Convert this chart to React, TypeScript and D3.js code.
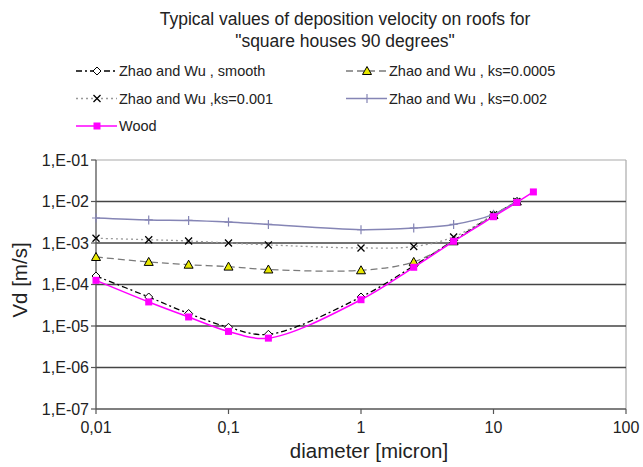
import React from 'react';
import * as d3 from 'd3';

// particle diameters [micron]
const diam = [0.01, 0.025, 0.05, 0.1, 0.2, 1, 2.5, 5, 10, 15];
const woodDiam = [0.01, 0.025, 0.05, 0.1, 0.2, 1, 2.5, 5, 10, 15, 20];

// deposition velocity [m/s]
const zwSmooth = [1.6e-4, 5.0e-5, 2.0e-5, 9.3e-6, 6.3e-6, 5.0e-5, 2.8e-4, 1.15e-3, 4.7e-3, 1.0e-2];
const zwKs0005 = [4.6e-4, 3.5e-4, 3.0e-4, 2.7e-4, 2.3e-4, 2.2e-4, 3.5e-4, 1.1e-3, 4.7e-3, 1.0e-2];
const zwKs001 = [1.3e-3, 1.2e-3, 1.12e-3, 1.0e-3, 9.0e-4, 7.6e-4, 8.2e-4, 1.4e-3, 4.8e-3, 1.0e-2];
const zwKs002 = [4.0e-3, 3.6e-3, 3.5e-3, 3.2e-3, 2.8e-3, 2.1e-3, 2.3e-3, 2.8e-3, 4.9e-3, 1.0e-2];
const wood = [1.26e-4, 3.8e-5, 1.65e-5, 7.4e-6, 5.1e-6, 4.3e-5, 2.6e-4, 1.1e-3, 4.3e-3, 9.5e-3, 1.7e-2];

const xTicks = [0.01, 0.1, 1, 10, 100];
const xTickLabels = ['0,01', '0,1', '1', '10', '100'];
const yTicks = [1e-7, 1e-6, 1e-5, 1e-4, 1e-3, 1e-2, 1e-1];
const yTickLabels = ['1,E-07', '1,E-06', '1,E-05', '1,E-04', '1,E-03', '1,E-02', '1,E-01'];

const W = 643, H = 467;
const font = '"Liberation Sans", Arial, sans-serif';

const x = d3.scaleLog().domain([0.01, 100]).range([96, 626]);
const y = d3.scaleLog().domain([1e-7, 1e-1]).range([409, 160]);

type Series = {
  name: string;
  xs: number[];
  ys: number[];
  color: string;
  dash?: string;
  width: number;
  marker: string;
};

const series: Series[] = [
  { name: 'Zhao and Wu , smooth', xs: diam, ys: zwSmooth, color: '#000', dash: '6,3,2,3', width: 1.3, marker: 'diamond' },
  { name: 'Zhao and Wu , ks=0.0005', xs: diam, ys: zwKs0005, color: '#7a7a7a', dash: '7,4', width: 1.3, marker: 'triangle' },
  { name: 'Zhao and Wu ,ks=0.001', xs: diam, ys: zwKs001, color: '#999', dash: '2,3', width: 1.3, marker: 'cross' },
  { name: 'Zhao and Wu , ks=0.002', xs: diam, ys: zwKs002, color: '#8585b5', width: 1.5, marker: 'plus' },
  { name: 'Wood', xs: woodDiam, ys: wood, color: '#ff00ff', width: 1.5, marker: 'square' },
];

function Marker({ kind, cx, cy }: { kind: string; cx: number; cy: number }) {
  if (kind === 'diamond')
    return <path d={`M${cx},${cy - 4}L${cx + 4},${cy}L${cx},${cy + 4}L${cx - 4},${cy}Z`} fill="#fff" stroke="#000" strokeWidth={1} />;
  if (kind === 'triangle')
    return <path d={`M${cx},${cy - 4.5}L${cx + 4.5},${cy + 3.5}L${cx - 4.5},${cy + 3.5}Z`} fill="#e8e800" stroke="#000" strokeWidth={1} />;
  if (kind === 'cross')
    return <path d={`M${cx - 3.5},${cy - 3.5}L${cx + 3.5},${cy + 3.5}M${cx + 3.5},${cy - 3.5}L${cx - 3.5},${cy + 3.5}`} stroke="#000" strokeWidth={1.3} />;
  if (kind === 'plus')
    return <path d={`M${cx},${cy - 4.5}L${cx},${cy + 4.5}M${cx - 4},${cy}L${cx + 4},${cy}`} stroke="#8585b5" strokeWidth={1.2} />;
  return <rect x={cx - 3.5} y={cy - 3.5} width={7} height={7} fill="#ff00ff" />;
}

const line = d3.line<[number, number]>()
  .x(d => x(d[0]))
  .y(d => y(d[1]))
  .curve(d3.curveCatmullRom.alpha(0.5));

const legendPos = [
  { lx: 76, ly: 71 },
  { lx: 346, ly: 71 },
  { lx: 76, ly: 98.5 },
  { lx: 346, ly: 98.5 },
  { lx: 76, ly: 126 },
];

export default function App() {
  return (
    <div style={{ position: 'absolute', left: 0, top: 0 }}>
      <svg width={W} height={H} style={{ display: 'block', background: '#fff' }} fontFamily={font}>
        {/* title */}
        <text x={345} y={25} textAnchor="middle" fontSize={17.5} fill="#222">Typical values of deposition velocity on roofs for</text>
        <text x={345} y={47} textAnchor="middle" fontSize={17.5} fill="#222">"square houses 90 degrees"</text>

        {/* legend */}
        {series.map((s, i) => {
          const p = legendPos[i];
          return (
            <g key={s.name}>
              <line x1={p.lx} x2={p.lx + 41} y1={p.ly} y2={p.ly} stroke={s.color} strokeWidth={s.width} strokeDasharray={s.dash} />
              <Marker kind={s.marker} cx={p.lx + 21} cy={p.ly} />
              <text x={p.lx + 43} y={p.ly + 5} fontSize={14.5} fill="#222">{s.name}</text>
            </g>
          );
        })}

        {/* plot frame */}
        <line x1={96} x2={626} y1={160} y2={160} stroke="#aaa" strokeWidth={1.2} />
        <line x1={626} x2={626} y1={160} y2={409} stroke="#aaa" strokeWidth={1.2} />

        {/* grid */}
        {yTicks.slice(1, -1).map(t => (
          <line key={t} x1={96} x2={626} y1={y(t)} y2={y(t)} stroke="#444" strokeWidth={1.5} />
        ))}

        {/* axes */}
        <line x1={96} x2={96} y1={160} y2={409} stroke="#555" strokeWidth={1.3} />
        <line x1={96} x2={626} y1={409} y2={409} stroke="#555" strokeWidth={1.3} />
        {yTicks.map((t, i) => (
          <g key={t}>
            <line x1={91} x2={96} y1={y(t)} y2={y(t)} stroke="#555" strokeWidth={1.2} />
            <text x={89} y={y(t) + 5.5} textAnchor="end" fontSize={16} fill="#222">{yTickLabels[i]}</text>
          </g>
        ))}
        {xTicks.map((t, i) => (
          <g key={t}>
            <line x1={x(t)} x2={x(t)} y1={409} y2={414} stroke="#555" strokeWidth={1.2} />
            <text x={x(t)} y={433} textAnchor="middle" fontSize={16} fill="#222">{xTickLabels[i]}</text>
          </g>
        ))}

        <text x={369} y={458} textAnchor="middle" fontSize={20.5} fill="#222">diameter [micron]</text>
        <text transform="translate(27,280) rotate(-90)" textAnchor="middle" fontSize={20.5} fill="#222">Vd [m/s]</text>

        {/* series */}
        {series.map(s => {
          const pts = s.xs.map((d, i) => [d, s.ys[i]] as [number, number]);
          return (
            <g key={s.name}>
              <path d={line(pts) || ''} fill="none" stroke={s.color} strokeWidth={s.width} strokeDasharray={s.dash} />
              {pts.map((p, i) => (
                <Marker key={i} kind={s.marker} cx={x(p[0])} cy={y(p[1])} />
              ))}
            </g>
          );
        })}
      </svg>
    </div>
  );
}
